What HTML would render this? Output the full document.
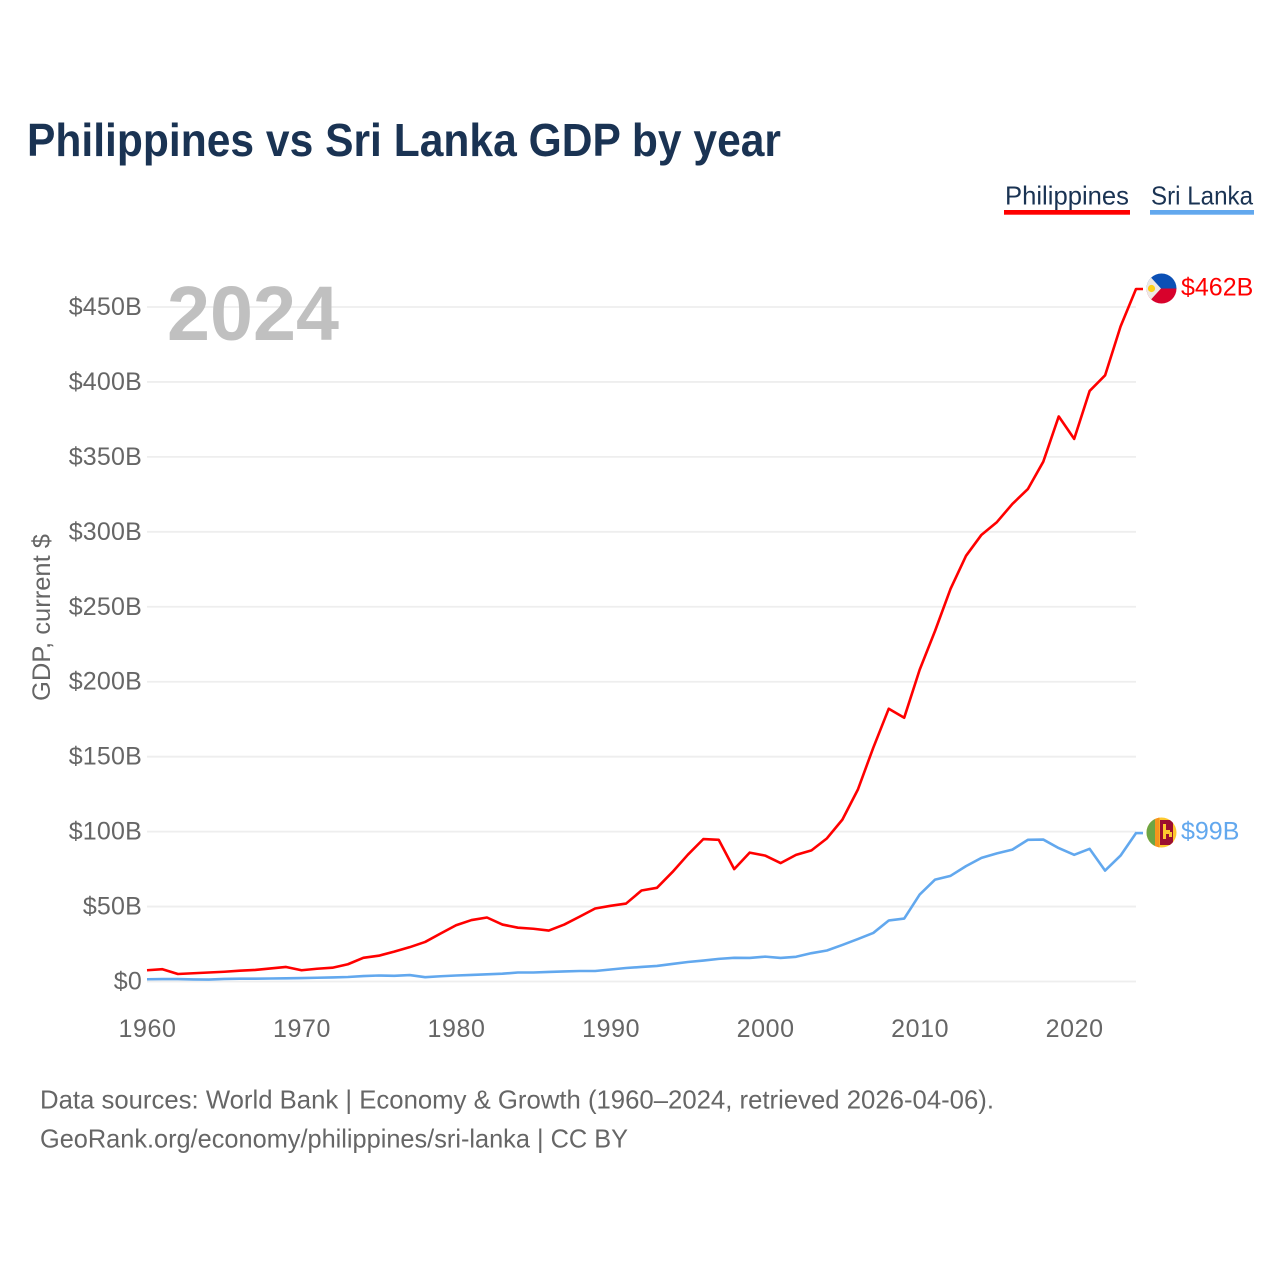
<!DOCTYPE html>
<html lang="en">
<head>
<meta charset="utf-8">
<title>Philippines vs Sri Lanka GDP by year</title>
<style>
html,body{margin:0;padding:0;background:#fff}
svg{display:block}
text{font-family:"Liberation Sans",sans-serif}
</style>
</head>
<body>
<svg id="chart" xmlns="http://www.w3.org/2000/svg" width="1280" height="1280" viewBox="0 0 1280 1280">
  <defs>
    <clipPath id="ph-clip"><circle cx="1161.5" cy="288.5" r="15"/></clipPath>
    <clipPath id="lk-clip"><circle cx="1161.5" cy="832.5" r="15"/></clipPath>
  </defs>
  <text x="27" y="156" font-size="46" font-weight="700" fill="#1a3353" textLength="754" lengthAdjust="spacingAndGlyphs">Philippines vs Sri Lanka GDP by year</text>

  <g>
    <g>
      <text x="1005" y="204.5" font-size="26" fill="#1a3353" textLength="124" lengthAdjust="spacingAndGlyphs">Philippines</text>
      <rect x="1004" y="210" width="126" height="4.7" fill="#ff0000"/>
    </g>
    <g>
      <text x="1151" y="204.5" font-size="26" fill="#1a3353" textLength="102" lengthAdjust="spacingAndGlyphs">Sri Lanka</text>
      <rect x="1150" y="210" width="104" height="4.7" fill="#62a8ee"/>
    </g>
  </g>

  <g id="grid"></g>
  <g id="yticks"></g>
  <g id="xticks"></g>

  <text transform="translate(50,701) rotate(-90)" font-size="25" fill="#666666" textLength="167" lengthAdjust="spacingAndGlyphs">GDP, current $</text>
  <text x="167" y="340" font-size="77" font-weight="700" fill="#c0c0c0" textLength="172" lengthAdjust="spacingAndGlyphs">2024</text>

  <g id="series"></g>

  <g clip-path="url(#ph-clip)">
    <rect x="1146" y="273" width="31" height="16" fill="#0b50b5"/>
    <rect x="1146" y="288.5" width="31" height="17" fill="#d8022c"/>
    <polygon points="1146,272 1161,288.5 1146,305" fill="#ece9e6"/>
    <circle cx="1151.5" cy="288.5" r="3.6" fill="#fcd116"/>
  </g>
  <g clip-path="url(#lk-clip)">
    <rect x="1146" y="817" width="31" height="31" fill="#fdc82f"/>
    <rect x="1146" y="817" width="9" height="31" fill="#6da544"/>
    <rect x="1155" y="817" width="4.5" height="31" fill="#f7941d"/>
    <rect x="1160" y="820" width="13" height="25" fill="#9b0f30"/>
    <path d="M1163 824h3v6h4v2h2v5h-3v-3h-3v5h-3z" fill="#fdc82f"/>
  </g>

  <text id="label-ph" x="1181" y="295.5" font-size="25" fill="#ff0000">$462B</text>
  <text id="label-lk" x="1181" y="839.5" font-size="25" fill="#62a8ee">$99B</text>

  <g>
    <text x="40" y="1108.5" font-size="26" fill="#666666" textLength="954" lengthAdjust="spacingAndGlyphs">Data sources: World Bank | Economy &amp; Growth (1960–2024, retrieved 2026-04-06).</text>
    <text x="40" y="1147.5" font-size="26" fill="#666666" textLength="588" lengthAdjust="spacingAndGlyphs">GeoRank.org/economy/philippines/sri-lanka | CC BY</text>
  </g>
</svg>
<script>
const startYear = 1960;
const philippines = [7.5,8.2,5,5.5,6,6.5,7.2,7.7,8.7,9.7,7.5,8.5,9.2,11.5,15.8,17.2,19.9,22.9,26.4,32,37.5,41,42.7,38,35.9,35.2,34,38,43.3,48.7,50.5,52,60.7,62.5,73,84.6,95,94.5,75,86,84,79,84.5,87.5,95.5,108,128,156,182,176,208,234,262,284,298,306.5,318.6,328.5,346.8,377,362,394,404.4,437,462];
const sriLanka = [1.5,1.6,1.6,1.4,1.3,1.7,1.9,1.9,2.0,2.1,2.3,2.5,2.7,3,3.6,4,3.8,4.3,2.9,3.5,4,4.4,4.8,5.2,6,6,6.4,6.7,7,7,8,9,9.7,10.4,11.7,13,14,15.1,15.8,15.7,16.6,15.7,16.5,18.9,20.7,24.4,28.3,32.4,40.7,42,58,68,70.5,77,82.5,85.5,88,94.5,94.7,89,84.5,88.5,74,84,99];
const yTickValues = [0,50,100,150,200,250,300,350,400,450];
const yTickLabels = ["$0","$50B","$100B","$150B","$200B","$250B","$300B","$350B","$400B","$450B"];
const xTickYears = [1960,1970,1980,1990,2000,2010,2020];
const xTickLabels = ["1960","1970","1980","1990","2000","2010","2020"];

const NS = "http://www.w3.org/2000/svg";
function xScale(year){ return 147 + (year - 1960) * (1136 - 147) / 64; }
function yScale(v){ return 981.5 - v * (981.5 - 307) / 450; }
function make(tag, attrs, parent){
  const el = document.createElementNS(NS, tag);
  for (const k in attrs) el.setAttribute(k, attrs[k]);
  parent.appendChild(el);
  return el;
}

const grid = document.getElementById("grid");
const yticks = document.getElementById("yticks");
yTickValues.forEach(function(v, i){
  const line = make("line", {x1:147, x2:1136, y1:yScale(v), y2:yScale(v), stroke:"#eeeeee", "stroke-width":1.8}, grid);
  
  
  const t = make("text", {x:142, y:yScale(v)+8, "text-anchor":"end", "font-size":25, "letter-spacing":0.2, fill:"#666666"}, yticks);
  
  
  t.textContent = yTickLabels[i];
});

const xticks = document.getElementById("xticks");
xTickYears.forEach(function(y, i){
  const t = make("text", {x:xScale(y)+0.5, y:1037, "text-anchor":"middle", "font-size":25, "letter-spacing":0.6, fill:"#666666"}, xticks);
  
  
  t.textContent = xTickLabels[i];
});

const seriesGroup = document.getElementById("series");
function drawSeries(values, color, name){
  const pts = values.map(function(v, i){ return xScale(startYear + i).toFixed(2) + "," + yScale(v).toFixed(2); });
  const lastY = yScale(values[values.length - 1]);
  pts.push("1143," + lastY.toFixed(2));
  const path = make("polyline", {points:pts.join(" "), fill:"none", stroke:color, "stroke-width":2.6, "stroke-linejoin":"round"}, seriesGroup);
  
  
}
drawSeries(sriLanka, "#62a8ee", "line-sri-lanka");
drawSeries(philippines, "#ff0000", "line-philippines");
</script>
</body>
</html>
